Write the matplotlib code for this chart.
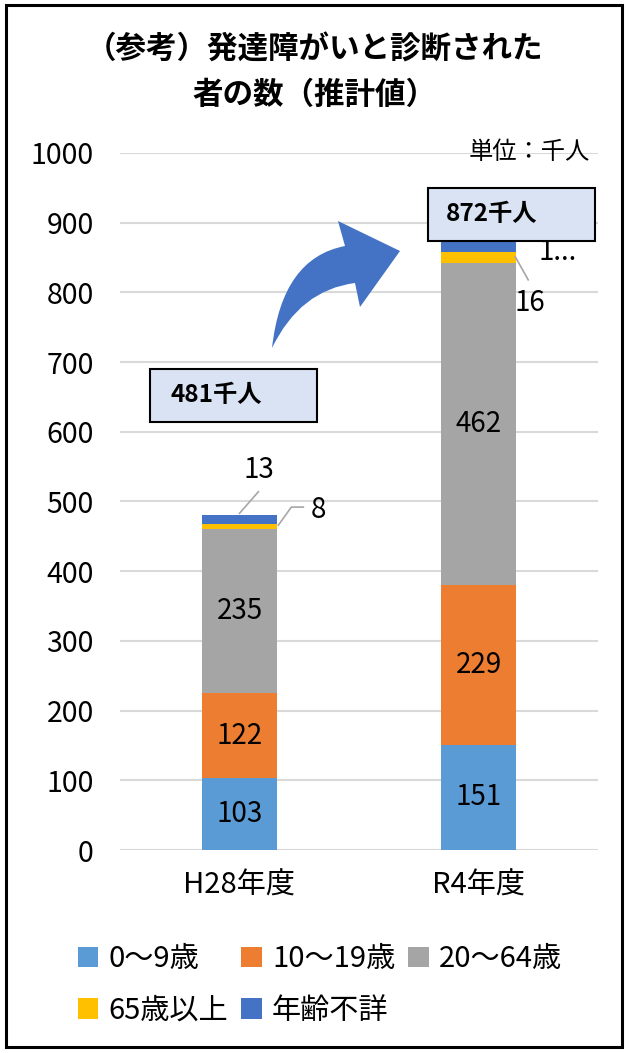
import matplotlib
matplotlib.use("Agg")
import matplotlib.pyplot as plt
from matplotlib.patches import Patch, Rectangle, PathPatch
from matplotlib.path import Path
import matplotlib.transforms as mtransforms

plt.rcParams['font.family'] = ['Noto Sans CJK JP', 'DejaVu Sans']

# 推計値（千人）
years = ['H28年度', 'R4年度']
age_groups = ['0～9歳', '10～19歳', '20～64歳', '65歳以上', '年齢不詳']
age_0_9 = [103, 151]
age_10_19 = [122, 229]
age_20_64 = [235, 462]
age_65_over = [8, 16]
age_unknown = [13, 14]
totals = [481, 872]

colors = ['#5B9BD5', '#ED7D31', '#A5A5A5', '#FFC000', '#4472C4']
series = [age_0_9, age_10_19, age_20_64, age_65_over, age_unknown]

W, H = 629, 1053
fig = plt.figure(figsize=(W / 100, H / 100), dpi=100)
ax = fig.add_axes([120 / W, 1 - 850 / H, 478 / W, 697 / H])

# 画素座標（左上原点）→ 図座標
px = mtransforms.Affine2D().scale(1 / W, -1 / H).translate(0, 1) + fig.transFigure

x = list(range(len(years)))
bw = 0.317
bottoms = [0, 0]
conts = []
for vals, c in zip(series, colors):
    bc = ax.bar(x, vals, bw, bottom=bottoms, color=c, zorder=3)
    conts.append(bc)
    bottoms = [b + v for b, v in zip(bottoms, vals)]

fs = 20
for bc in conts[:3]:
    ax.bar_label(bc, label_type='center', fontsize=fs, color='black')

# 小さい区分のラベルと引き出し線
lc = '#A6A6A6'
top0 = age_0_9[0] + age_10_19[0] + age_20_64[0] + age_65_over[0]
ax.plot([0, 0.079], [top0 + age_unknown[0] + 2, top0 + age_unknown[0] + 33], color=lc, lw=1.2, zorder=4)
ax.text(0.079, top0 + age_unknown[0] + 64, str(age_unknown[0]), ha='center', va='center', fontsize=fs)
mid65 = top0 - age_65_over[0] / 2
ax.plot([0.1625, 0.217, 0.267], [mid65 + 2, mid65 + 28, mid65 + 28], color=lc, lw=1.2, zorder=4)
ax.text(0.33, mid65 + 24, str(age_65_over[0]), ha='center', va='center', fontsize=fs)

top1 = age_0_9[1] + age_10_19[1] + age_20_64[1]
mid65b = top1 + age_65_over[1] / 2
ax.plot([1.154, 1.208], [mid65b + 1, mid65b - 32], color=lc, lw=1.2, zorder=4)
ax.text(1.217, mid65b - 65, str(age_65_over[1]), ha='center', va='center', fontsize=fs)
ax.text(1.329, top1 + age_65_over[1], str(age_unknown[1])[:1] + '...', ha='center', va='center', fontsize=fs)

# 合計の囲み
box_pos = [(-0.375, 614, 0.70, 76, -0.29, 653), (0.7875, 874, 0.70, 76, 0.8625, 912)]
for (bx, by, bwid, bh, tx, ty), t in zip(box_pos, totals):
    ax.add_patch(Rectangle((bx, by), bwid, bh, facecolor='#DAE3F3', edgecolor='black',
                           lw=1.5, zorder=5, clip_on=False))
    ax.text(tx, ty, f'{t}千人', ha='left', va='center', fontsize=17.5, fontweight='bold', zorder=6)

ax.set_xlim(-0.5, 1.5)
ax.set_ylim(0, 1000)
ax.set_yticks(range(0, 1001, 100))
ax.set_xticks(x)
ax.set_xticklabels(years)
ax.tick_params(axis='y', length=0, pad=19, labelsize=20.5)
ax.tick_params(axis='x', length=0, pad=15, labelsize=21)
ax.grid(axis='y', color='#D9D9D9', lw=1.5, zorder=0)
for s in ax.spines.values():
    s.set_visible(False)

# 増加を示す矢印
verts = [(272, 348), (282, 258), (345, 246), (338, 221), (400, 251), (360, 307),
         (355, 283), (300, 290), (272, 348), (272, 348)]
codes = [Path.MOVETO, Path.CURVE3, Path.CURVE3, Path.LINETO, Path.LINETO, Path.LINETO,
         Path.LINETO, Path.CURVE3, Path.CURVE3, Path.CLOSEPOLY]
fig.add_artist(PathPatch(Path(verts, codes), facecolor='#4472C4', edgecolor='none', transform=px))

fig.text(0.5, 1 - 50 / H, '（参考）発達障がいと診断された', ha='center', va='center',
         fontsize=22, fontweight='bold')
fig.text(0.5, 1 - 95 / H, '者の数（推計値）', ha='center', va='center',
         fontsize=22, fontweight='bold')
fig.text(590 / W, 1 - 152 / H, '単位：千人', ha='right', va='center', fontsize=17.5)

handles = [Patch(facecolor=c) for c in colors]
order = [0, 3, 1, 4, 2]
fig.legend([handles[i] for i in order], [age_groups[i] for i in order], ncol=3,
           loc='upper left', bbox_to_anchor=(78 / W, 1 - 944 / H), frameon=False,
           fontsize=21, handlelength=0.7, handleheight=0.7, handletextpad=0.35,
           columnspacing=0.45, labelspacing=0.75, borderaxespad=0, borderpad=0)

fig.add_artist(Rectangle((6, 5), 616, 1042, fill=False, edgecolor='black', lw=2.2, transform=px))

fig.savefig('out.png', dpi=100)
